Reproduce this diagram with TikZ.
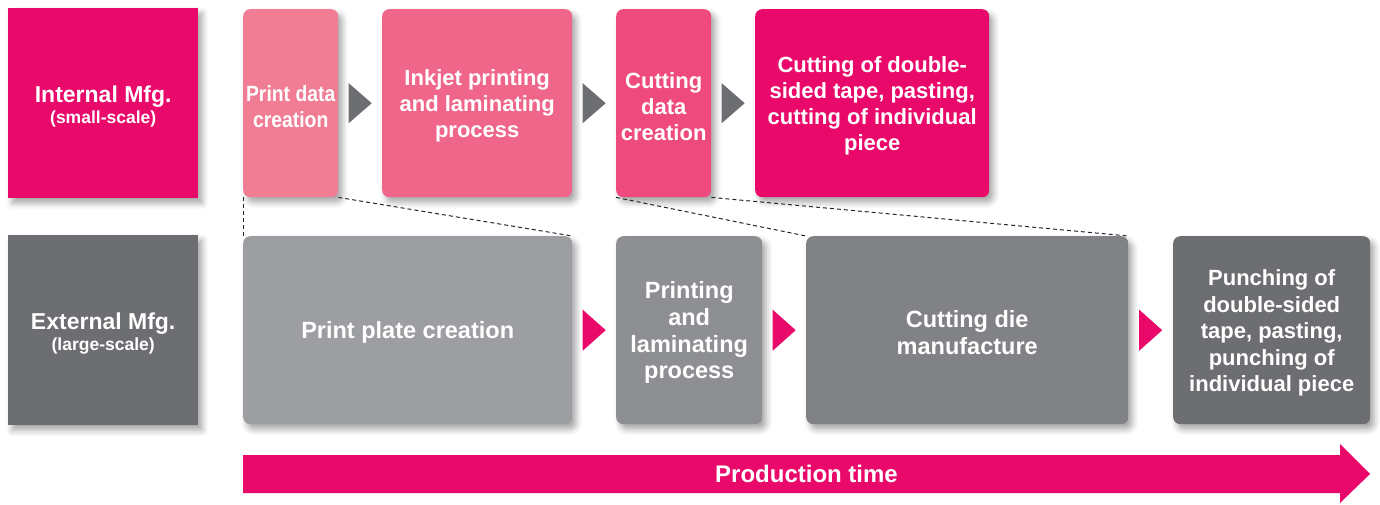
\documentclass[tikz,border=0pt]{standalone}
\usepackage{fontspec}
\setmainfont{Liberation Sans}
\usetikzlibrary{shadows.blur,calc}
\definecolor{mag}{HTML}{E9096B}
\definecolor{pinkA}{HTML}{F17D95}
\definecolor{pinkB}{HTML}{F0668B}
\definecolor{pinkC}{HTML}{EF4A7E}
\definecolor{grayD}{HTML}{6D6E72}
\definecolor{grayA}{HTML}{9D9EA2}
\definecolor{grayB}{HTML}{8E8F93}
\definecolor{grayC}{HTML}{818286}
\definecolor{dashc}{HTML}{262626}
\newcommand\tupstrut[1]{\rule{0pt}{#1}}
\begin{document}
\begin{tikzpicture}[x=1pt,y=-1pt,
  box/.style={anchor=north west, inner sep=0pt, align=center, text=white,
    font=\bfseries\fontsize{22}{26}\selectfont,
    blur shadow={shadow xshift=4pt, shadow yshift=-5pt, shadow blur radius=6pt, shadow opacity=35}},
  proc/.style={box, rounded corners=7pt},
  lowproc/.style={proc, font=\bfseries\fontsize{23.5}{26.7}\selectfont},
  zoomline/.style={draw=dashc, line width=1pt, dash pattern=on 4pt off 3pt},
  garr/.style={fill=grayD},
  parr/.style={fill=mag}]
\useasboundingbox (0,0) rectangle (1380,504);

% row labels
\node[box, fill=mag, minimum width=190pt, minimum height=190pt] (im) at (8,8)
  {{\fontsize{23}{20}\selectfont\tupstrut{24pt}Internal Mfg.}\\[-5pt]{\fontsize{17.5}{20}\selectfont (small-scale)}};
\node[box, fill=grayD, minimum width=190pt, minimum height=190pt] (em) at (8,235)
  {{\fontsize{23}{20}\selectfont\tupstrut{24pt}External Mfg.}\\[-5pt]{\fontsize{17.5}{20}\selectfont (large-scale)}};

% top row
\node[proc, fill=pinkA, minimum width=95pt, minimum height=188pt] (pd) at (243,9)
  {\tupstrut{22pt}\scalebox{0.88}[1]{Print data}\\\scalebox{0.88}[1]{creation}};
\node[proc, fill=pinkB, minimum width=190pt, minimum height=188pt] (ij) at (382,9)
  {\tupstrut{22pt}Inkjet printing\\and laminating\\process};
\node[proc, fill=pinkC, minimum width=95pt, minimum height=188pt] (cd) at (616,9)
  {\tupstrut{22pt}Cutting\\data\\creation};
\node[proc, fill=mag, minimum width=234pt, minimum height=188pt] (ct) at (755,9)
  {\tupstrut{22pt}Cutting of double-\\sided tape, pasting,\\cutting of individual\\piece};

% bottom row
\node[lowproc, fill=grayA, minimum width=329pt, minimum height=188pt] (pp) at (243,236)
  {\tupstrut{22pt}Print plate creation};
\node[lowproc, fill=grayB, minimum width=146pt, minimum height=188pt] (pl) at (616,236)
  {\tupstrut{22pt}Printing\\and\\laminating\\process};
\node[lowproc, fill=grayC, minimum width=322pt, minimum height=188pt] (dm) at (806,236)
  {\tupstrut{22pt}Cutting die\\manufacture};
\node[proc, fill=grayD, minimum width=197pt, minimum height=188pt, font=\bfseries\fontsize{22}{26.5}\selectfont] (pu) at (1173,236)
  {\tupstrut{22pt}Punching of\\double-sided\\tape, pasting,\\punching of\\individual piece};

% zoom lines
\draw[zoomline] (pd.south west) -- (pp.north west);
\draw[zoomline] (pd.south east) -- (pp.north east);
\draw[zoomline] (cd.south west) -- (dm.north west);
\draw[zoomline] (cd.south east) -- (dm.north east);

% top arrows
\coordinate (t1) at ($(pd.east)!0.5!(ij.west)$);
\coordinate (t2) at ($(ij.east)!0.5!(cd.west)$);
\coordinate (t3) at ($(cd.east)!0.5!(ct.west)$);
\foreach \c in {t1,t2,t3}
  \fill[garr] ($(\c)+(-11.5,-20)$) -- ($(\c)+(11.5,0)$) -- ($(\c)+(-11.5,20)$) -- cycle;

% bottom arrows
\coordinate (b1) at ($(pp.east)!0.5!(pl.west)$);
\coordinate (b2) at ($(pl.east)!0.5!(dm.west)$);
\coordinate (b3) at ($(dm.east)!0.5!(pu.west)$);
\foreach \c in {b1,b2,b3}
  \fill[parr] ($(\c)+(-11.5,-20.5)$) -- ($(\c)+(11.5,0)$) -- ($(\c)+(-11.5,20.5)$) -- cycle;

% production time arrow
\coordinate (ps) at (243,474);
\coordinate (pe) at (1370,474);
\fill[mag] ($(ps)+(0,-19)$) -- ($(pe)+(-30,-19)$) -- ($(pe)+(-30,-30)$) -- (pe)
  -- ($(pe)+(-30,29)$) -- ($(pe)+(-30,19)$) -- ($(ps)+(0,19)$) -- cycle;
\node[text=white, font=\bfseries\fontsize{24}{28}\selectfont, inner sep=0pt] (pt)
  at ($(ps)!0.5!(pe)$) {Production time};
\end{tikzpicture}
\end{document}
